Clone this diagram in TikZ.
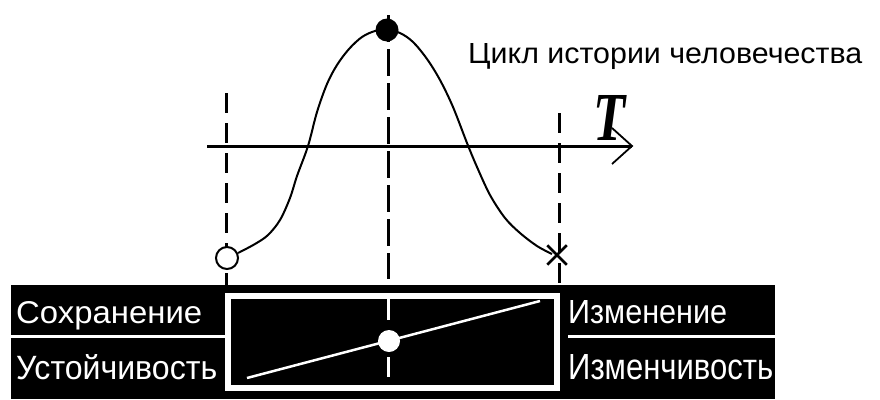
\documentclass[tikz,border=0pt]{standalone}
\usepackage{fontspec}
\setmainfont{Liberation Sans}
\newfontfamily\tfont{Liberation Serif}
\usepackage{graphicx}
\usetikzlibrary{shapes.misc}
\begin{document}
\begin{tikzpicture}[x=1pt,y=-1pt,
  dashline/.style={line width=3pt, dash pattern=on 20pt off 10pt},
  middash/.style={line width=3pt, dash pattern=on 27pt off 7pt},
  curveline/.style={line width=2pt, line join=round},
  lbl/.style={inner sep=0pt, anchor=base west, text=white},
  wline/.style={white, line width=3pt},
]
\useasboundingbox (0,0) rectangle (880,399);
\fill[white] (0,0) rectangle (880,399);

% ---------- coordinates ----------
\coordinate (ax0) at (207,146);
\coordinate (ax1) at (632,146);
\coordinate (ah1) at (612,128);
\coordinate (ah2) at (612,164);
\coordinate (l0) at (226,93);
\coordinate (l1) at (226,285);
\coordinate (m0) at (388,15);
\coordinate (m1) at (388,279);
\coordinate (r0) at (559,113);
\coordinate (r1) at (559,285);

% ---------- dashed verticals ----------
\draw[dashline] (l0) -- (l1);
\draw[dashline] (r0) -- (r1);
\draw[middash] (m0) -- (m1);

% ---------- axis ----------
\draw[line width=3pt] (ax0) -- (ax1);
\draw[line width=1.8pt] (ah1) -- (ax1) -- (ah2);

% ---------- curve ----------
\draw[curveline] plot[smooth, tension=0.55] coordinates {
  (238,253) (255,244) (268,235) (280,220) (290,198) (297,176) (308,146)
  (317,112) (327,84) (337,65) (349,49) (362,37) (375,31) (387,30)
  (400,33) (413,42) (427,59) (440,80) (453,107) (467,143) (477,167)
  (490,195) (505,218) (520,233) (537,246) (552,254)};

\node[circle, draw, line width=2pt, fill=white, minimum size=22pt, inner sep=0pt] (start) at (227,258) {};
\node[cross out, draw, line width=2.5pt, minimum size=17pt, inner sep=0pt] (end) at (557,255) {};
\node[circle, fill=black, minimum size=23pt, inner sep=0pt] (peak) at (387,30) {};

% ---------- labels top ----------
\node[inner sep=0pt, anchor=base west] (title) at (468,63)
  {\resizebox{394pt}{20pt}{Цикл истории человечества}};
\node[inner sep=0pt, anchor=base west] (T) at (593,140)
  {\resizebox{32pt}{45pt}{\tfont\bfseries\itshape T}};

% ---------- bottom band ----------
\fill[black] (11,285) rectangle (775,399);
\draw[wline] (11,336.5) -- (225,336.5);
\draw[wline] (568,336.5) -- (775,336.5);
\node[draw=white, line width=6pt, minimum width=329pt, minimum height=92pt, inner sep=0pt] (box) at (392.5,342) {};

\coordinate (b0) at (388,299);
\coordinate (b1) at (388,320);
\coordinate (b2) at (388,357);
\coordinate (b3) at (388,377);
\draw[wline] (b0) -- (b1);
\draw[wline] (b2) -- (b3);
\coordinate (dl) at (247,378);
\coordinate (dr) at (540,301);
\draw[white, line width=2.5pt] (dl) -- (dr);
\node[circle, fill=white, minimum size=22pt, inner sep=0pt] (mid) at (389,341) {};

\node[lbl] (sokh) at (16,323) {\resizebox{186pt}{22pt}{Сохранение}};
\node[lbl] (ust) at (16,379) {\resizebox{201pt}{25pt}{Устойчивость}};
\node[lbl] (izm) at (568,323) {\resizebox{159pt}{23pt}{Изменение}};
\node[lbl] (izmv) at (568,379) {\resizebox{205pt}{25pt}{Изменчивость}};
\end{tikzpicture}
\end{document}
